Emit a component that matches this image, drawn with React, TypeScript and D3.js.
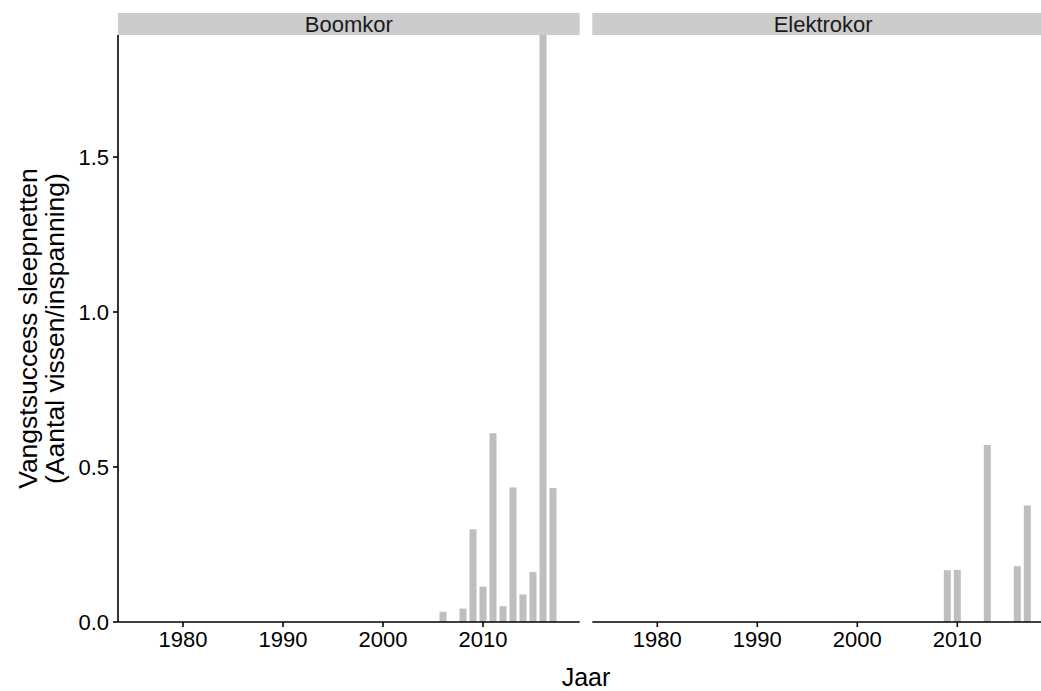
import React from "react";
import * as d3 from "d3";

const panels = ["Boomkor", "Elektrokor"];
const boomYears = [2006, 2008, 2009, 2010, 2011, 2012, 2013, 2014, 2015, 2016, 2017];
const boomValues = [0.033, 0.043, 0.299, 0.114, 0.609, 0.051, 0.434, 0.089, 0.161, 1.894, 0.432];
const elekYears = [2009, 2010, 2013, 2016, 2017];
const elekValues = [0.167, 0.168, 0.571, 0.18, 0.376];
const xTicks = [1980, 1990, 2000, 2010];
const yTicks = [0.0, 0.5, 1.0, 1.5];
const yTitle = ["Vangstsuccess sleepnetten", "(Aantal vissen/inspanning)"];
const xTitle = "Jaar";

const W = 1041, H = 691;
const panelW = 461.7;
const panelX = [118, 592.3];
const top = 35, bottom = 622;
const stripTop = 13;
const barW = 0.7;
const font = "Liberation Sans, Arial, sans-serif";

export default function App() {
  const y = d3.scaleLinear().domain([0, 1.8935]).range([bottom, top]);
  const data = [
    boomYears.map((yr, i) => ({ yr, v: boomValues[i] })),
    elekYears.map((yr, i) => ({ yr, v: elekValues[i] })),
  ];
  return (
    <svg width={W} height={H} style={{ position: "absolute", left: 0, top: 0, background: "#fff" }} fontFamily={font}>
      <rect width={W} height={H} fill="#fff" />
      {panels.map((name, p) => {
        const x = d3.scaleLinear().domain([1973.5, 2019.67]).range([panelX[p], panelX[p] + panelW]);
        return (
          <g key={name}>
            <rect x={panelX[p]} y={stripTop} width={panelW} height={top - stripTop} fill="#cccccc" />
            <text x={panelX[p] + panelW / 2} y={32} textAnchor="middle" fontSize={22} fill="#1a1a1a">{name}</text>
            {data[p].map((d) => (
              <rect key={d.yr} x={x(d.yr - barW / 2)} width={x(d.yr + barW / 2) - x(d.yr - barW / 2)} y={y(d.v)} height={y(0) - y(d.v)} fill="#bebebe" />
            ))}
            <line x1={panelX[p]} x2={panelX[p] + panelW} y1={bottom} y2={bottom} stroke="#000" strokeWidth={1.6} />
            {xTicks.map((t) => (
              <g key={t}>
                <line x1={x(t)} x2={x(t)} y1={bottom} y2={bottom + 5} stroke="#000" strokeWidth={1.6} />
                <text x={x(t)} y={bottom + 25} textAnchor="middle" fontSize={22} fill="#000">{t}</text>
              </g>
            ))}
          </g>
        );
      })}
      <line x1={panelX[0]} x2={panelX[0]} y1={top} y2={bottom} stroke="#000" strokeWidth={1.6} />
      {yTicks.map((t) => (
        <g key={t}>
          <line x1={panelX[0] - 5} x2={panelX[0]} y1={y(t)} y2={y(t)} stroke="#000" strokeWidth={1.6} />
          <text x={panelX[0] - 9} y={y(t) + 8} textAnchor="end" fontSize={22} fill="#000">{t.toFixed(1)}</text>
        </g>
      ))}
      <g transform={`translate(37, ${(top + bottom) / 2}) rotate(-90)`}>
        <text x={0} y={0} textAnchor="middle" fontSize={26.5} fill="#000">{yTitle[0]}</text>
        <text x={0} y={27} textAnchor="middle" fontSize={26.5} fill="#000">{yTitle[1]}</text>
      </g>
      <text x={(panelX[0] + panelX[1] + panelW) / 2} y={686} textAnchor="middle" fontSize={25} fill="#000">{xTitle}</text>
    </svg>
  );
}
